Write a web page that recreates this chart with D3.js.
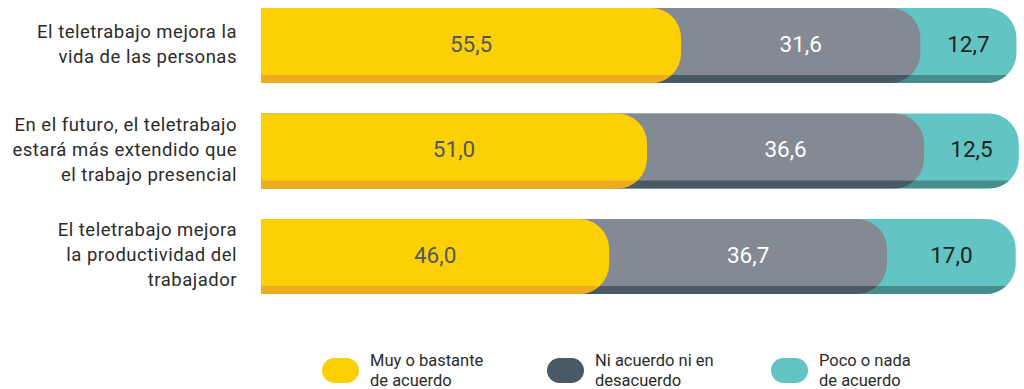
<!DOCTYPE html>
<html>
<head>
<meta charset="utf-8">
<script src="https://cdn.jsdelivr.net/npm/d3@7"></script>
<style>
  body { margin: 0; background: #fff; }
  svg { display: block; }
</style>
</head>
<body>
<div id="chart"></div>
<script>
var width = 1024,
	height = 389;

// data
var categories = ['c1', 'c2', 'c3'];
var categoryLabels = [
	['El teletrabajo mejora la', 'vida de las personas'],
	['En el futuro, el teletrabajo', 'estará más extendido que', 'el trabajo presencial'],
	['El teletrabajo mejora', 'la productividad del', 'trabajador']
];
var series = ['muy', 'ni', 'poco'];
var seriesLabels = [
	['Muy o bastante', 'de acuerdo'],
	['Ni acuerdo ni en', 'desacuerdo'],
	['Poco o nada', 'de acuerdo']
];
var muyValues = [55.5, 51.0, 46.0];
var niValues = [31.6, 36.6, 36.7];
var pocoValues = [12.7, 12.5, 17.0];

var mainColors = ['#fdd005', '#838a93', '#63c4c4'];
var shadowColors = ['#eeac1f', '#4a5a65', '#468e8e'];
var legendColors = ['#fdd005', '#4a5a65', '#63c4c4'];
var labelColors = ['#4f5a63', '#ffffff', '#222222'];

var rows = categories.map(function(c, i){
	return { key: c, muy: muyValues[i], ni: niValues[i], poco: pocoValues[i] };
});
var stacked = d3.stack().keys(series)(rows);

var x = d3.scaleLinear().domain([0, 100]).range([261, 1018]);
var y = d3.scaleBand().domain(categories).range([8, 294]).paddingInner(0.289);

var svg = d3.select('#chart').append('svg')
	.attr('width', width)
	.attr('height', height);

var r = 30, shadowH = 8;

function shape(x0, x1, y0, y1){
	var rr = Math.min(r, (x1 - x0));
	return 'M' + x0 + ',' + y0 +
		'H' + (x1 - rr) +
		'A' + rr + ',' + r + ' 0 0 1 ' + x1 + ',' + (y0 + r) +
		'V' + (y1 - r) +
		'A' + rr + ',' + r + ' 0 0 1 ' + (x1 - rr) + ',' + y1 +
		'H' + x0 + 'Z';
}

// clip paths for the bottom shadow strip of each bar
var defs = svg.append('defs');
categories.forEach(function(c, i){
	defs.append('clipPath').attr('id', 'shadow-' + i)
		.append('rect')
		.attr('x', 0)
		.attr('y', y(c) + y.bandwidth() - shadowH)
		.attr('width', width)
		.attr('height', shadowH);
});

// draw segments back to front so the left one sits over the next
var layers = stacked.slice().reverse();
layers.forEach(function(layer){
	var si = series.indexOf(layer.key);
	var g = svg.append('g').attr('class', 'seg-' + layer.key);
	layer.forEach(function(d, i){
		var c = categories[i];
		var p = shape(x(0), x(d[1]), y(c), y(c) + y.bandwidth());
		g.append('path').attr('d', p).attr('fill', mainColors[si]);
		g.append('path').attr('d', p).attr('fill', shadowColors[si])
			.attr('clip-path', 'url(#shadow-' + i + ')');
	});
});

// value labels
stacked.forEach(function(layer){
	var si = series.indexOf(layer.key);
	svg.append('g').selectAll('text')
		.data(layer)
		.enter().append('text')
		.attr('x', function(d){ return (x(d[0]) + x(d[1])) / 2; })
		.attr('y', function(d, i){ return y(categories[i]) + 44; })
		.attr('text-anchor', 'middle')
		.style('font-family', 'Roboto, sans-serif')
		.style('font-size', '22.5px')
		.style('font-weight', 400)
		.style('fill', labelColors[si])
		.text(function(d){ return d3.format('.1f')(d[1] - d[0]).replace('.', ','); });
});

// category labels
categories.forEach(function(c, i){
	var lines = categoryLabels[i];
	var mid = y(c) + y.bandwidth() / 2;
	var first = mid - (lines.length - 1) * 25 / 2 + 4.5;
	var t = svg.append('text')
		.attr('text-anchor', 'end')
		.style('font-family', 'Roboto, sans-serif')
		.style('font-size', '18.5px')
		.style('letter-spacing', '0.5px')
		.style('fill', '#2b2b2b');
	lines.forEach(function(l, k){
		t.append('tspan').attr('x', 237).attr('y', first + k * 25).text(l);
	});
});

// legend
var legendX = [322, 547, 771];
var legend = svg.append('g').attr('class', 'legend');
series.forEach(function(s, i){
	legend.append('rect')
		.attr('x', legendX[i]).attr('y', 358)
		.attr('width', 37).attr('height', 25)
		.attr('rx', 12.5)
		.attr('fill', legendColors[i]);
	var t = legend.append('text')
		.style('font-family', 'Roboto, sans-serif')
		.style('font-size', '16.5px')
		.style('fill', '#2b2b2b');
	seriesLabels[i].forEach(function(l, k){
		t.append('tspan').attr('x', legendX[i] + 48).attr('y', 366 + k * 20).text(l);
	});
});
</script>
</body>
</html>
